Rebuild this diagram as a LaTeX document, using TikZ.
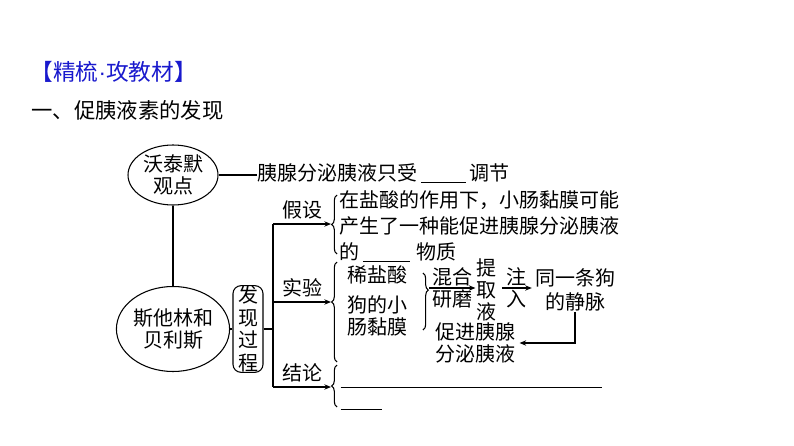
\documentclass[tikz,border=0pt]{standalone}
\usepackage{fontspec}
\newfontfamily\cjk{Noto Sans CJK SC}
\newfontfamily\latinf{Liberation Sans}
\usetikzlibrary{shapes.geometric,arrows.meta,decorations.pathreplacing}
\definecolor{titleblue}{RGB}{25,25,205}

\begin{document}
\begin{tikzpicture}
        [x=0.75pt, y=-0.75pt, line width=0.8pt,
        txt/.style={font=\cjk\fontsize{15}{19.5}\selectfont, inner sep=0pt, align=left},
        oval/.style={ellipse, draw, inner sep=0pt, align=center, font=\cjk\fontsize{15}{17}\selectfont},
        stagebox/.style={draw, rounded corners=6pt, minimum width=22.5pt, minimum height=65pt, inner sep=0pt, align=center, font=\cjk\fontsize{15}{17}\selectfont},
        link/.style={black},
        arr/.style={black, -{Stealth[length=5pt, width=4pt]}},
        bracel/.style={decorate, decoration={brace, amplitude=4pt}}]

        \useasboundingbox (0,0) rectangle (794,446);

        % headings
        \node[txt, anchor=west, text=titleblue, font=\cjk\fontsize{17}{20}\selectfont] (head) at (30,72) {【精梳{\latinf ·}攻教材】};
        \node[txt, anchor=west, font=\cjk\fontsize{16}{20}\selectfont] (sect) at (31,110) {一、促胰液素的发现};

        % the two views
        \node[oval, minimum width=67.5pt, minimum height=45pt] (wt) at (173,175) {沃泰默\\观点};
        \node[oval, minimum width=75.75pt, minimum height=63.75pt] (sb) at (173,329) {斯他林和\\贝利斯};
        \node[stagebox] (proc) at (248,329) {发\\现\\过\\程};
        \node[txt, anchor=west] (view) at (257,173) {胰腺分泌胰液只受\,\rule[-2pt]{34pt}{0.6pt}\,调节};

        % trunk points and brace tips
        \coordinate (tHyp) at (273,224);
        \coordinate (tExp) at (273,302);
        \coordinate (tCon) at (273,387);
        \coordinate (tMid) at (273,329);
        \coordinate (bHyp) at (331,224);
        \coordinate (bExp) at (331,302);
        \coordinate (bCon) at (331,387);

        \draw[link] (wt) -- (sb);
        \draw[link] (wt.east) -- (wt.east -| view.west);
        \draw[link] (sb) -- (proc);
        \draw[link] (proc) -- (tMid);
        \draw[link] (tHyp) -- (tCon);

        % branches
        \draw[arr] (tHyp) -- (bHyp) node[midway, above=3pt, txt] (hyp) {假设};
        \draw[arr] (tExp) -- (bExp) node[midway, above=3pt, txt] (exp) {实验};
        \draw[arr] (tCon) -- (bCon) node[midway, above=3pt, txt] (con) {结论};

        \draw[bracel] (337,254) -- (337,195);
        \draw[bracel, decoration={aspect=0.6}] (337,362) -- (337,262);
        \draw[bracel] (337,407) -- (337,365);

        % hypothesis
        \node[txt, anchor=west] (hyptext) at (339,226) {在盐酸的作用下，小肠黏膜可能\\产生了一种能促进胰腺分泌胰液\\的\,\rule[-2pt]{35pt}{0.6pt}\,\,物质};

        % experiment
        \node[txt] (acid) at (377,275) {稀盐酸};
        \node[txt, align=center, font=\cjk\fontsize{15}{16.5}\selectfont] (mucosa) at (377,316) {狗的小\\肠黏膜};
        \draw[bracel, decoration={aspect=0.3}] (423,273) -- (423,330);
        \coordinate (mBr) at (429,288);
        \node[txt, align=center, font=\cjk\fontsize{15}{16.5}\selectfont] (extract) at (486,290) {提\\取\\液};
        \draw[arr] (mBr) -- (extract.west |- mBr) node[midway, above=1pt, txt] (mix) {混合} node[midway, below=1pt, txt] (grind) {研磨};
        \node[txt, align=center, font=\cjk\fontsize{15}{18}\selectfont] (vein) at (575,290) {同一条狗\\的静脉};
        \draw[arr] ([xshift=4]extract.east |- mBr) -- ([xshift=-2]vein.west |- mBr) node[midway, above=1pt, txt] (inj) {注} node[midway, below=1pt, txt] (inj2) {入};
        \node[txt, align=center, font=\cjk\fontsize{15}{17}\selectfont] (effect) at (475,343) {促进胰腺\\分泌胰液};
        \draw[arr] (vein.south) |- ([xshift=3]effect.east);

        % conclusion blanks
        \node[txt, anchor=north west] (conblank) at (340,386) {\rule{196pt}{0.6pt}\\[-3pt]\rule{31pt}{0.6pt}};

\end{tikzpicture}
\end{document}
